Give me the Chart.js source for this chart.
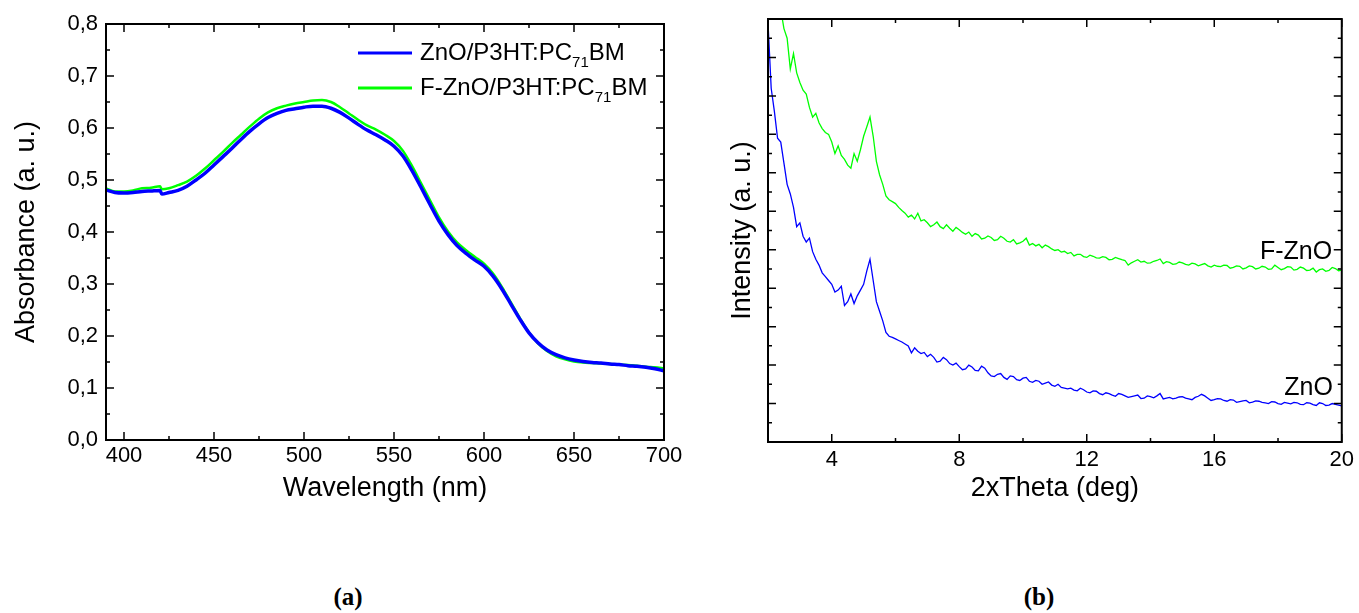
<!DOCTYPE html>
<html>
<head>
<meta charset="utf-8">
<title>Absorbance and XRD</title>
<script src="https://cdn.jsdelivr.net/npm/chart.js@4.4.0/dist/chart.umd.min.js"></script>
<style>
  html, body { margin: 0; padding: 0; background: #fff; }
  #page { position: relative; width: 1359px; height: 613px; background: #fff; overflow: hidden; }
  canvas { position: absolute; top: 0; }
  #chartA { left: 0; }
  #chartB { left: 680px; }
  .caption {
    position: absolute; top: 583px; line-height: 30px;
    font: bold 25px "Liberation Serif", "Times New Roman", serif;
    transform: translateX(-50%);
  }
</style>
</head>
<body>
<div id="page">
  <canvas id="chartA" width="700" height="520"></canvas>
  <canvas id="chartB" width="679" height="520"></canvas>
  <div class="caption" style="left:348px">(a)</div>
  <div class="caption" style="left:1039px">(b)</div>
</div>
<script>
// ---- (a) absorbance spectra ----
const wavelength = [390, 395, 400, 405, 410, 415, 420, 421,
  425, 430, 435, 440, 445, 450, 455, 460, 465, 470,
  475, 480, 485, 490, 495, 500, 505, 510, 515, 520,
  525, 530, 535, 540, 545, 550, 555, 560, 565, 570,
  575, 580, 585, 590, 595, 600, 605, 610, 615, 620,
  625, 630, 635, 640, 645, 650, 655, 660, 665, 670,
  675, 680, 685, 690, 695, 700];
const absZnO = [0.481, 0.476, 0.475, 0.476, 0.478, 0.479, 0.480, 0.473,
  0.476, 0.480, 0.488, 0.500, 0.513, 0.529, 0.545, 0.561, 0.578, 0.594,
  0.608, 0.620, 0.628, 0.634, 0.637, 0.640, 0.642, 0.642, 0.638, 0.630,
  0.619, 0.607, 0.596, 0.587, 0.577, 0.565, 0.546, 0.518, 0.486, 0.453,
  0.421, 0.395, 0.374, 0.359, 0.346, 0.334, 0.315, 0.290, 0.261, 0.232,
  0.206, 0.187, 0.173, 0.164, 0.158, 0.154, 0.151, 0.149, 0.148, 0.146,
  0.145, 0.143, 0.142, 0.140, 0.137, 0.133];
const absFZnO = [0.484, 0.478, 0.478, 0.480, 0.484, 0.485, 0.488, 0.482,
  0.484, 0.490, 0.497, 0.508, 0.522, 0.538, 0.554, 0.571, 0.587, 0.603,
  0.618, 0.630, 0.638, 0.643, 0.647, 0.650, 0.653, 0.654, 0.650, 0.640,
  0.628, 0.616, 0.605, 0.597, 0.587, 0.575, 0.556, 0.527, 0.494, 0.461,
  0.428, 0.401, 0.380, 0.365, 0.352, 0.339, 0.320, 0.294, 0.264, 0.234,
  0.207, 0.186, 0.171, 0.161, 0.155, 0.151, 0.149, 0.148, 0.147, 0.146,
  0.145, 0.144, 0.143, 0.141, 0.140, 0.138];
const wavelengthTicks = [400, 450, 500, 550, 600, 650, 700];
const absorbanceTicks = [0, 0.1, 0.2, 0.3, 0.4, 0.5, 0.6, 0.7, 0.8];
const seriesNamesA = ['ZnO/P3HT:PC71BM', 'F-ZnO/P3HT:PC71BM'];

// ---- (b) XRD patterns ----
const twoTheta = [2.0, 2.1, 2.2, 2.3, 2.4, 2.5, 2.6, 2.7, 2.8, 2.9,
  3.0, 3.1, 3.2, 3.3, 3.4, 3.5, 3.6, 3.7, 3.8, 3.9,
  4.0, 4.1, 4.2, 4.3, 4.4, 4.5, 4.6, 4.7, 4.8, 4.9,
  5.0, 5.1, 5.2, 5.3, 5.4, 5.5, 5.6, 5.7, 5.8, 5.9,
  6.0, 6.1, 6.2, 6.3, 6.4, 6.5, 6.6, 6.7, 6.8, 6.9,
  7.0,
  7.1, 7.2, 7.3, 7.4, 7.5, 7.6, 7.7, 7.8, 7.9, 8.0,
  8.1, 8.2, 8.3, 8.4, 8.5, 8.6, 8.7, 8.8, 8.9, 9.0,
  9.1, 9.2, 9.3, 9.4, 9.5, 9.6, 9.7, 9.8, 9.9, 10.0,
  10.1, 10.2, 10.3, 10.4, 10.5, 10.6, 10.7, 10.8, 10.9, 11.0,
  11.1, 11.2, 11.3, 11.4, 11.5, 11.6, 11.7, 11.8, 11.9, 12.0,
  12.1, 12.2, 12.3, 12.4, 12.5, 12.6, 12.7, 12.8, 12.9, 13.0,
  13.1, 13.2, 13.3, 13.4, 13.5, 13.6, 13.7, 13.8, 13.9, 14.0,
  14.1, 14.2, 14.3, 14.4, 14.5, 14.6, 14.7, 14.8, 14.9, 15.0,
  15.1, 15.2, 15.3, 15.4, 15.5, 15.6, 15.7, 15.8, 15.9, 16.0,
  16.1, 16.2, 16.3, 16.4, 16.5, 16.6, 16.7, 16.8, 16.9, 17.0,
  17.1, 17.2, 17.3, 17.4, 17.5, 17.6, 17.7, 17.8, 17.9, 18.0,
  18.1, 18.2, 18.3, 18.4, 18.5, 18.6, 18.7, 18.8, 18.9, 19.0,
  19.1, 19.2, 19.3, 19.4, 19.5, 19.6, 19.7, 19.8, 19.9, 20.0];
const xrdZnO = [10.9, 9.2, 8.6, 7.9, 7.8, 7.25, 6.7, 6.45, 6.1, 5.6,
  5.7, 5.35, 5.2, 5.3, 4.95, 4.75, 4.6, 4.4, 4.3, 4.2,
  4.1, 3.9, 3.95, 4.05, 3.55, 3.65, 3.85, 3.6, 3.8, 3.95,
  4.1, 4.45, 4.75, 4.2, 3.65, 3.4, 3.15, 2.85, 2.75, 2.72,
  2.68, 2.64, 2.6, 2.55, 2.5, 2.32, 2.45, 2.36, 2.3, 2.33,
  2.22,
  2.28, 2.2, 2.08, 2.1, 2.2, 2.14, 2.04, 2.0, 2.05, 1.96,
  1.88, 1.9, 2.0, 1.95, 1.86, 1.85, 1.97, 1.92, 1.8, 1.72,
  1.7, 1.76, 1.78, 1.68, 1.63, 1.72, 1.7, 1.62, 1.6, 1.66,
  1.68, 1.58, 1.55, 1.6, 1.58, 1.5, 1.53, 1.56, 1.48, 1.45,
  1.5, 1.42, 1.4, 1.38, 1.4, 1.35, 1.33, 1.4, 1.36, 1.3,
  1.28, 1.33, 1.32, 1.26, 1.23, 1.28, 1.26, 1.22, 1.19, 1.26,
  1.24, 1.2, 1.16, 1.18, 1.2, 1.22, 1.13, 1.14, 1.2, 1.18,
  1.15, 1.2, 1.26, 1.12, 1.14, 1.16, 1.12, 1.14, 1.17, 1.18,
  1.14, 1.12, 1.1, 1.16, 1.19, 1.24, 1.2, 1.14, 1.08, 1.1,
  1.13, 1.12, 1.08, 1.06, 1.1, 1.09, 1.03, 1.05, 1.07, 1.08,
  1.02, 1.04, 1.07, 1.06, 1.03, 1.02, 1.0, 1.05, 1.04, 1.0,
  0.98, 1.03, 1.01, 0.99, 1.03, 1.02, 0.98, 0.97, 1.02, 1.01,
  0.97, 0.95, 1.02, 1.0, 0.95, 0.96, 1.0, 0.98, 0.96, 0.94];
const xrdFZnO = [13, 12.6, 12.2, 11.8, 11.25, 10.75, 10.5, 9.7, 10.1, 9.6,
  9.35, 9.15, 9.05, 8.7, 8.45, 8.55, 8.3, 8.15, 8.05, 8.0,
  7.8, 7.5, 7.7, 7.45, 7.35, 7.2, 7.12, 7.5, 7.3, 7.6,
  7.95, 8.2, 8.45, 7.95, 7.3, 6.95, 6.7, 6.4, 6.3, 6.25,
  6.2, 6.1, 6.02, 5.95, 5.85, 5.9, 5.8, 5.95, 5.75, 5.78,
  5.7,
  5.6, 5.65, 5.72, 5.6, 5.55, 5.65, 5.56, 5.48, 5.58, 5.52,
  5.45, 5.4, 5.46, 5.35, 5.42, 5.38, 5.28, 5.3, 5.36, 5.32,
  5.24, 5.26, 5.35, 5.3, 5.22, 5.2, 5.26, 5.15, 5.18, 5.22,
  5.3, 5.12, 5.16, 5.1, 5.14, 5.05, 5.12, 5.08, 5.02, 4.98,
  5.0, 4.94, 4.96, 4.9, 4.93, 4.84, 4.88, 4.88, 4.82, 4.8,
  4.86, 4.83, 4.79, 4.78, 4.82, 4.8, 4.74, 4.75, 4.8, 4.77,
  4.74, 4.72, 4.6, 4.66, 4.7, 4.74, 4.68, 4.7, 4.65, 4.66,
  4.7, 4.72, 4.76, 4.64, 4.69, 4.67, 4.62, 4.63, 4.68, 4.66,
  4.62, 4.6, 4.65, 4.63, 4.58, 4.61, 4.64, 4.58, 4.55, 4.6,
  4.57, 4.56, 4.6, 4.59, 4.52, 4.54, 4.58, 4.57, 4.5, 4.53,
  4.58, 4.56, 4.5, 4.52, 4.57, 4.55, 4.49, 4.5, 4.6, 4.54,
  4.48, 4.51, 4.56, 4.55, 4.47, 4.49, 4.55, 4.52, 4.46, 4.47,
  4.52, 4.42, 4.48, 4.5, 4.44, 4.46, 4.54, 4.51, 4.45, 4.47];
const thetaTicks = [4, 8, 12, 16, 20];
const intensityTicks = [0, 1, 2, 3, 4, 5, 6, 7, 8, 9, 10, 11];
const curveNamesB = ['ZnO', 'F-ZnO'];

const FONT = '"Liberation Sans", Arial, sans-serif';
Chart.defaults.font.family = FONT;
Chart.defaults.color = '#000';

function pairs(xs, ys) {
  return xs.map((x, i) => ({ x: x, y: ys[i] }));
}

// closed frame with inward major / minor ticks on all four sides
const frameTicks = {
  id: 'frameTicks',
  afterDatasetsDraw(chart) {
    const { ctx, chartArea: a, scales } = chart;
    const marks = (scale) => {
      const v = scale.ticks.map(t => t.value);
      const half = (v[1] - v[0]) / 2;
      const out = [];
      let k = -Math.floor((v[0] - scale.min) / half + 1e-9);
      for (; v[0] + k * half <= scale.max + 1e-9; k++) {
        out.push({ p: scale.getPixelForValue(v[0] + k * half), major: Math.abs(k) % 2 === 0 });
      }
      return out;
    };
    ctx.save();
    ctx.strokeStyle = '#000';
    ctx.lineWidth = 1.5;
    ctx.beginPath();
    marks(scales.x).forEach(m => {
      const len = m.major ? 8 : 4;
      ctx.moveTo(m.p, a.bottom); ctx.lineTo(m.p, a.bottom - len);
      ctx.moveTo(m.p, a.top); ctx.lineTo(m.p, a.top + len);
    });
    marks(scales.y).forEach(m => {
      const len = m.major ? 8 : 4;
      ctx.moveTo(a.left, m.p); ctx.lineTo(a.left + len, m.p);
      ctx.moveTo(a.right, m.p); ctx.lineTo(a.right - len, m.p);
    });
    ctx.stroke();
    ctx.lineWidth = 2;
    ctx.strokeRect(a.left, a.top, a.right - a.left, a.bottom - a.top);
    ctx.restore();
  }
};

// label text with the "71" of PC71BM set as subscript
function drawSubLabel(ctx, text, x, y) {
  const m = text.match(/^(.*PC)(\d+)(.*)$/);
  const parts = m ? [[m[1], false], [m[2], true], [m[3], false]] : [[text, false]];
  ctx.fillStyle = '#000';
  ctx.textAlign = 'left';
  ctx.textBaseline = 'middle';
  parts.forEach(([t, sub]) => {
    ctx.font = (sub ? '15px ' : '24px ') + FONT;
    ctx.fillText(t, x, sub ? y + 10 : y);
    x += ctx.measureText(t).width;
  });
}

const insideLegend = {
  id: 'insideLegend',
  afterDraw(chart) {
    const { ctx, chartArea } = chart;
    ctx.save();
    chart.data.datasets.forEach((ds, i) => {
      const y = chartArea.top + 29 + i * 35;
      const x0 = chartArea.right - 306;
      ctx.strokeStyle = ds.borderColor;
      ctx.lineWidth = 3;
      ctx.beginPath();
      ctx.moveTo(x0, y);
      ctx.lineTo(x0 + 54, y);
      ctx.stroke();
      drawSubLabel(ctx, ds.label, x0 + 62, y);
    });
    ctx.restore();
  }
};

const curveLabels = {
  id: 'curveLabels',
  afterDatasetsDraw(chart, args, opts) {
    const { ctx, scales: { x, y } } = chart;
    ctx.save();
    ctx.font = '25px ' + FONT;
    ctx.fillStyle = '#000';
    ctx.textAlign = 'right';
    ctx.textBaseline = 'middle';
    opts.items.forEach(it => ctx.fillText(it.text, x.getPixelForValue(it.x), y.getPixelForValue(it.y)));
    ctx.restore();
  }
};

// Chart (a)
new Chart(document.getElementById('chartA').getContext('2d'), {
  type: 'line',
  data: {
    datasets: [{
      label: seriesNamesA[0],
      data: pairs(wavelength, absZnO),
      borderColor: '#0000ff',
      borderWidth: 3.5,
      pointRadius: 0,
      cubicInterpolationMode: 'monotone'
    }, {
      label: seriesNamesA[1],
      data: pairs(wavelength, absFZnO),
      borderColor: '#00ff00',
      borderWidth: 2.5,
      pointRadius: 0,
      cubicInterpolationMode: 'monotone'
    }]
  },
  options: {
    responsive: false,
    animation: false,
    layout: { padding: { left: 0, right: 36, top: 24, bottom: 0 } },
    plugins: { legend: { display: false }, tooltip: { enabled: false } },
    scales: {
      x: {
        type: 'linear', min: 390, max: 700,
        afterBuildTicks: (s) => { s.ticks = wavelengthTicks.map(v => ({ value: v })); },
        afterFit: (s) => { s.height = 80; },
        grid: { display: false, drawTicks: false },
        border: { display: false },
        ticks: { font: { size: 22 }, padding: 3, maxRotation: 0 },
        title: { display: true, text: 'Wavelength (nm)', font: { size: 27 }, padding: { top: 0, bottom: 15 } }
      },
      y: {
        type: 'linear', min: 0, max: 0.8,
        afterBuildTicks: (s) => { s.ticks = absorbanceTicks.map(v => ({ value: v })); },
        afterFit: (s) => { s.width = 106; },
        grid: { display: false, drawTicks: false },
        border: { display: false },
        ticks: { font: { size: 22 }, padding: 8, callback: (v) => Number(v).toFixed(1).replace('.', ',') },
        title: { display: true, text: 'Absorbance (a. u.)', font: { size: 27 }, padding: { top: 10, bottom: 0 } }
      }
    }
  },
  plugins: [frameTicks, insideLegend]
});

// Chart (b)
new Chart(document.getElementById('chartB').getContext('2d'), {
  type: 'line',
  data: {
    datasets: [{
      label: curveNamesB[0],
      data: pairs(twoTheta, xrdZnO),
      borderColor: '#0000ff',
      borderWidth: 1.3,
      pointRadius: 0
    }, {
      label: curveNamesB[1],
      data: pairs(twoTheta, xrdFZnO),
      borderColor: '#00ff00',
      borderWidth: 1.3,
      pointRadius: 0
    }]
  },
  options: {
    responsive: false,
    animation: false,
    layout: { padding: { left: 0, right: 12, top: 19, bottom: 0 } },
    plugins: {
      legend: { display: false },
      tooltip: { enabled: false },
      curveLabels: {
        items: [
          { text: curveNamesB[1], x: 19.7, y: 4.95 },
          { text: curveNamesB[0], x: 19.72, y: 1.4 }
        ]
      }
    },
    scales: {
      x: {
        type: 'linear', min: 2, max: 20,
        afterBuildTicks: (s) => { s.ticks = thetaTicks.map(v => ({ value: v })); },
        afterFit: (s) => { s.height = 78; },
        grid: { display: false, drawTicks: false },
        border: { display: false },
        ticks: { font: { size: 22 }, padding: 5, maxRotation: 0 },
        title: { display: true, text: '2xTheta (deg)', font: { size: 27 }, padding: { top: 0, bottom: 15 } }
      },
      y: {
        type: 'linear', min: 0, max: 11,
        afterBuildTicks: (s) => { s.ticks = intensityTicks.map(v => ({ value: v })); },
        afterFit: (s) => { s.width = 88; },
        grid: { display: false, drawTicks: false },
        border: { display: false },
        ticks: { display: false },
        title: { display: true, text: 'Intensity (a. u.)', font: { size: 27 }, padding: { top: 46, bottom: 0 } }
      }
    }
  },
  plugins: [frameTicks, curveLabels]
});
</script>
</body>
</html>
